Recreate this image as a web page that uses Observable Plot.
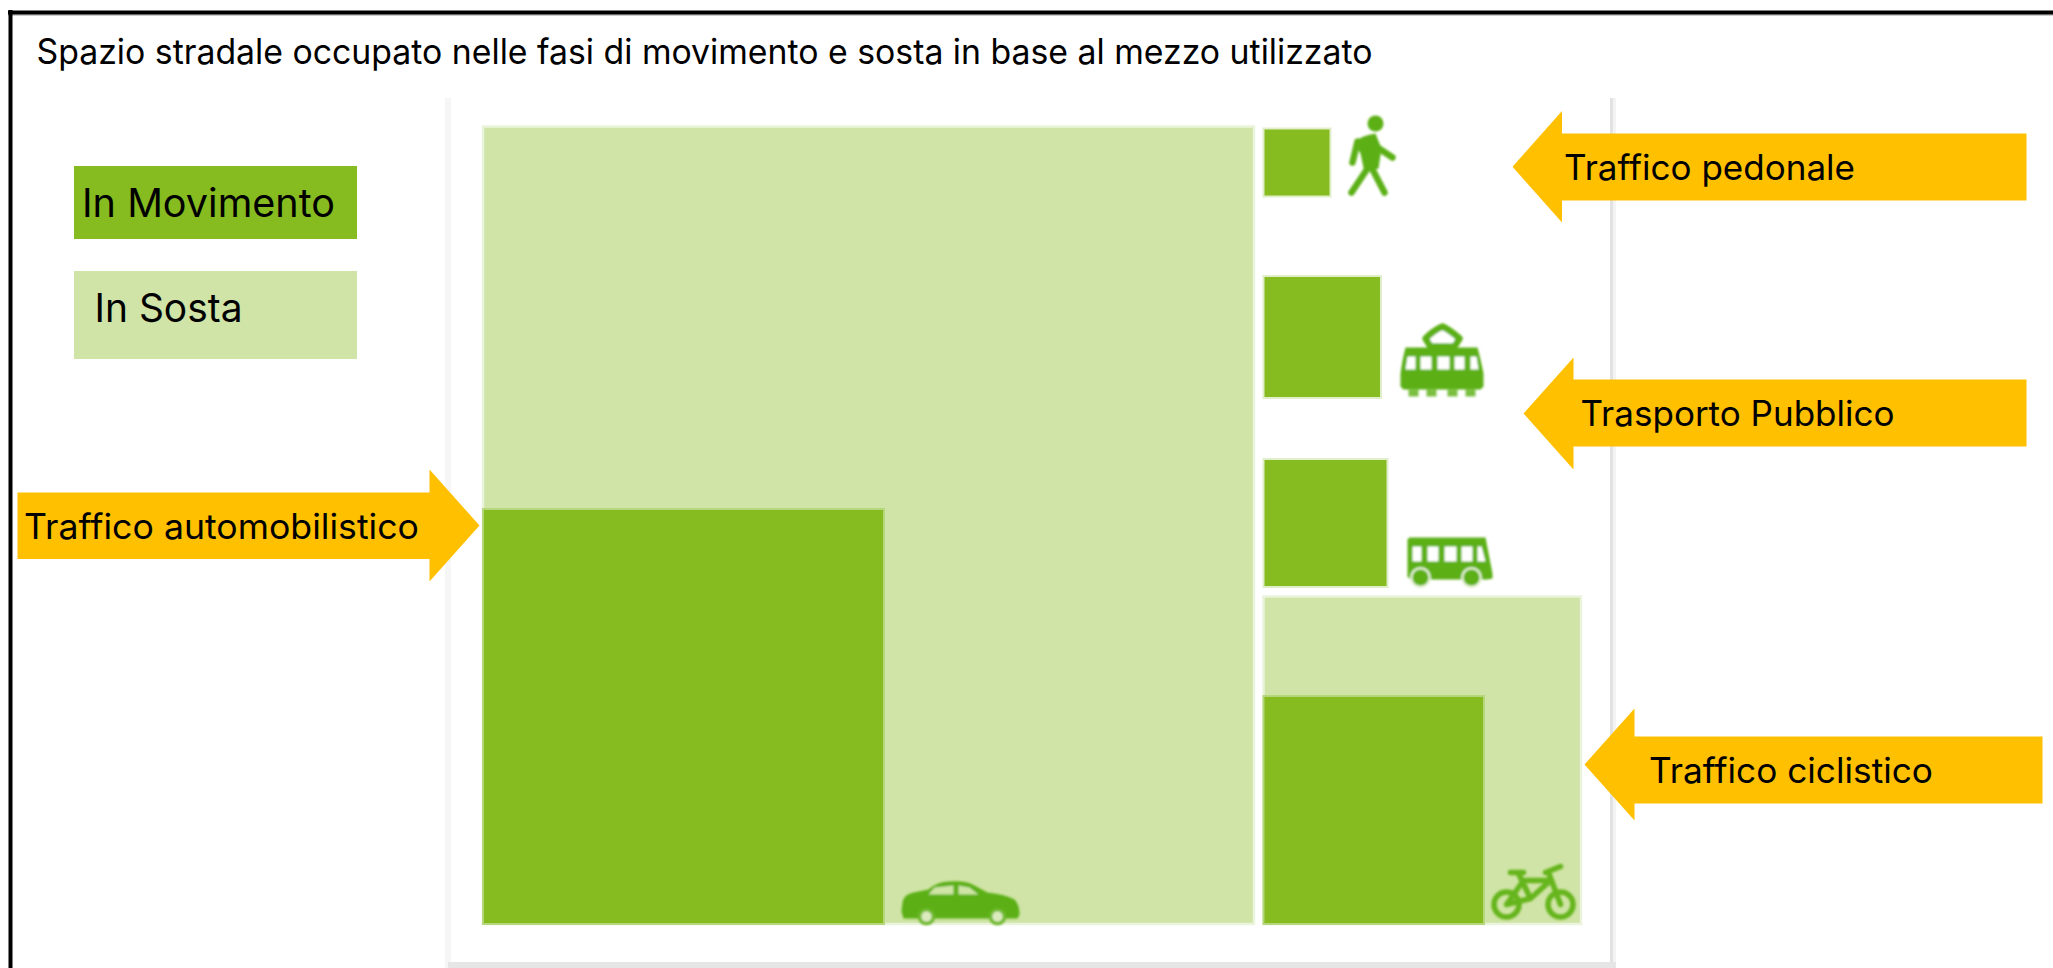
<!DOCTYPE html>
<html lang="it">
<head>
<meta charset="utf-8">
<title>Spazio stradale occupato</title>
<script src="https://cdn.jsdelivr.net/npm/d3@7"></script>
<script src="https://cdn.jsdelivr.net/npm/@observablehq/plot@0.6"></script>
<style>
html,body{margin:0;padding:0;background:#fff;overflow:hidden}
svg{display:block}
</style>
</head>
<body>
<div id="chart"></div>
<script>
// --- values (picture units) ---
const titleText = "Spazio stradale occupato nelle fasi di movimento e sosta in base al mezzo utilizzato";

// In Sosta blocks
const sostaNames = ["Auto", "Bici"];
const sostaX1 = [483, 1263.5];
const sostaX2 = [1254, 1581];
const sostaY1 = [126.5, 596.5];
const sostaY2 = [924, 924];

// In Movimento blocks
const movimentoNames = ["Auto", "Pedoni", "Tram", "Autobus", "Bici"];
const movimentoX1 = [483, 1263.5, 1263.5, 1263.5, 1263.5];
const movimentoX2 = [884, 1330.5, 1381, 1387.5, 1484];
const movimentoY1 = [509, 128.5, 276, 459, 696];
const movimentoY2 = [924, 196.5, 398, 587, 924];
const movimentoHalo = ["#B5D67A", "#E0EECA", "#E0EECA", "#E0EECA", "#B5D67A"];

// Legend
const legendLabels = ["In Movimento", "In Sosta"];
const legendY1 = [166, 271];
const legendY2 = [239, 359];
const legendTextX = [81.5, 94];
const legendTextY = [216.5, 321.5];

// Annotation arrows
const arrowLabels = ["Traffico automobilistico", "Traffico pedonale", "Trasporto Pubblico", "Traffico ciclistico"];
const arrowTip = [479, 1512, 1523, 1584];
const arrowHead = [429, 1561.5, 1573, 1634];
const arrowEnd = [17, 2026, 2026, 2042];
const arrowHeadTop = [469, 110.5, 357, 708];
const arrowHeadBottom = [581, 222, 469, 820];
const arrowShaftTop = [492, 133, 379, 736];
const arrowShaftBottom = [558.5, 200, 446, 803];
const arrowTextX = [23.5, 1563.5, 1580, 1648.5];
const arrowTextY = [538, 179, 425, 782];

// Text fitted widths
const textWidths = new Map([
  [titleText, 1336],
  ["In Movimento", 253],
  ["In Sosta", 148],
  ["Traffico automobilistico", 395],
  ["Traffico pedonale", 291],
  ["Trasporto Pubblico", 314],
  ["Traffico ciclistico", 284]
]);

// Icons
const iconNames = ["car", "bike", "tram", "bus", "walker"];
const iconX = [960, 1533, 1441.5, 1449.5, 1371];
const iconY = [903, 891.5, 360, 562, 155.5];
const iconW = [118, 84, 83, 85, 46];
const iconH = [44, 55, 74, 50, 81];
const iconArt = [
  // car
  `<path d="M1 21 Q2 13 12 11 L27 8 Q36 0 48 0 Q63 -1 71 3 L86 11 Q104 13 113 18 Q118 23 118 33 L116 37 L2 37 L0 30 Z" fill="#5BB014"/>
   <path d="M27 13 L33 6 L52 4 V13 Z M57 4 L68 6 L77 13 H57 Z" fill="#CFE4A6"/>
   <circle cx="25" cy="35" r="7" fill="#DCEBBE" stroke="#6DB82A" stroke-width="3.5"/>
   <circle cx="96" cy="35" r="7" fill="#DCEBBE" stroke="#6DB82A" stroke-width="3.5"/>`,
  // bike
  `<g fill="none" stroke="#66B51F" stroke-width="5.5" stroke-linecap="round" stroke-linejoin="round">
   <circle cx="15" cy="40" r="12.5"/><circle cx="69" cy="40" r="12.5"/>
   <path d="M19 8 H32 M27 9 L39 34 M32 16 H59 L39 34 L15 40 L32 16 M54 8 L69 2 M57 8 L69 40"/></g>`,
  // tram
  `<path d="M42 3 Q50 7 59 15 L54 23 H30 L25 15 Q33 7 42 3 Z" fill="#fff" stroke="#5BB014" stroke-width="6.5" stroke-linejoin="round"/>
   <path d="M5 24 H77 Q80 35 83 50 V63 L80 66 H3 L0 63 V50 Q2 35 5 24 Z" fill="#5BB014"/>
   <path d="M7 33 H15 V46 H5 Z M20 33 H31 V46 H20 Z M37 33 H49 V46 H37 Z M54 33 H64 V46 H54 Z M70 33 H76 L78 46 H70 Z" fill="#fff"/>
   <g fill="#5BB014" opacity=".8"><rect x="8" y="66" width="10" height="7"/><rect x="26" y="66" width="10" height="7"/><rect x="47" y="66" width="10" height="7"/><rect x="65" y="66" width="10" height="7"/></g>`,
  // bus
  `<path d="M2 0 H78 L85 36 V41 L80 42 H3 L0 39 V2 Z" fill="#5BB014"/>
   <path d="M5 9 H14 V24 H5 Z M20 9 H31 V24 H20 Z M37 9 H49 V24 H37 Z M54 9 H65 V24 H54 Z M70 9 H74 L78 24 H70 Z" fill="#fff"/>
   <circle cx="13" cy="40" r="10.5" fill="#E4F0D2"/><circle cx="64" cy="40" r="10.5" fill="#E4F0D2"/>
   <circle cx="13" cy="40" r="8" fill="#5BB014"/><circle cx="64" cy="40" r="8" fill="#5BB014"/>`,
  // walker
  `<circle cx="27" cy="8" r="8" fill="#5BB014"/>
   <path d="M6 28 Q11 20 27 18 L33 33 L30 53 L16 57 L12 38 Z" fill="#5BB014"/>
   <g fill="none" stroke="#5BB014" stroke-width="6.5" stroke-linecap="round" stroke-linejoin="round">
   <path d="M29 32 L44 42 M9 26 L4 47 M19 53 L3 77 M22 50 L36 77"/></g>`
];
const iconSrc = iconArt.map((art, i) =>
  "data:image/svg+xml;utf8," + encodeURIComponent(
    `<svg xmlns="http://www.w3.org/2000/svg" width="${iconW[i]}" height="${iconH[i]}" viewBox="-3 -3 ${iconW[i] + 6} ${iconH[i] + 6}"><defs><filter id="b" x="-10%" y="-10%" width="120%" height="120%"><feGaussianBlur stdDeviation="1"/></filter></defs><g filter="url(#b)">${art}</g></svg>`
  ));

// --- tables built from the arrays ---
const sosta = sostaNames.map((name, i) => ({name, x1: sostaX1[i], x2: sostaX2[i], y1: sostaY1[i], y2: sostaY2[i]}));
const movimento = movimentoNames.map((name, i) => ({name, x1: movimentoX1[i], x2: movimentoX2[i], y1: movimentoY1[i], y2: movimentoY2[i], halo: movimentoHalo[i]}));
const legend = legendLabels.map((label, i) => ({label, y1: legendY1[i], y2: legendY2[i], tx: legendTextX[i], ty: legendTextY[i]}));
const arrowPoints = arrowLabels.flatMap((label, i) => [
  [arrowTip[i], (arrowHeadTop[i] + arrowHeadBottom[i]) / 2],
  [arrowHead[i], arrowHeadTop[i]],
  [arrowHead[i], arrowShaftTop[i]],
  [arrowEnd[i], arrowShaftTop[i]],
  [arrowEnd[i], arrowShaftBottom[i]],
  [arrowHead[i], arrowShaftBottom[i]],
  [arrowHead[i], arrowHeadBottom[i]]
].map(([x, y]) => ({label, x, y})));
const arrowTexts = arrowLabels.map((label, i) => ({label, x: arrowTextX[i], y: arrowTextY[i]}));
const icons = iconNames.map((name, i) => ({name, x: iconX[i], y: iconY[i], w: iconW[i] + 6, h: iconH[i] + 6, src: iconSrc[i]}));

const FONT = "Inter";
const GREEN = "#86BC1F";
const PALE = "#CFE4A6";

const chart = Plot.plot({
  width: 2053,
  height: 968,
  margin: 0,
  x: {domain: [0, 2053], range: [0, 2053], axis: null},
  y: {domain: [0, 968], range: [0, 968], axis: null},
  marks: [
    // page frame: top and left only
    Plot.ruleY([14.5], {x1: 8, x2: 2053, stroke: "#9a9a9a", strokeWidth: 1}),
    Plot.ruleY([12], {x1: 8, x2: 2053, stroke: "#000", strokeWidth: 4}),
    Plot.ruleX([10], {y1: 10, y2: 968, stroke: "#000", strokeWidth: 4}),
    // source panel shadow
    Plot.rect([0], {x1: 445, x2: 451, y1: 98, y2: 968, fill: "#F6F6F6"}),
    Plot.rect([0], {x1: 1610, x2: 1613, y1: 98, y2: 968, fill: "#E2E2E2"}),
    Plot.rect([0], {x1: 1613, x2: 1616, y1: 98, y2: 968, fill: "#F3F3F3"}),
    Plot.rect([0], {x1: 448, x2: 1616, y1: 962, y2: 968, fill: "#E6E6E6"}),
    // blocks
    Plot.rect(sosta, {x1: "x1", x2: "x2", y1: "y1", y2: "y2", fill: PALE, stroke: "#EAF3DC", strokeWidth: 2.5}),
    Plot.rect(movimento, {x1: "x1", x2: "x2", y1: "y1", y2: "y2", fill: GREEN, stroke: "halo", strokeWidth: 2}),
    // pictograms
    Plot.image(icons, {x: "x", y: "y", width: "w", height: "h", src: "src"}),
    // legend
    Plot.rect(legend, {x1: 74, x2: 357, y1: "y1", y2: "y2", fill: d => d.label === "In Sosta" ? PALE : GREEN}),
    Plot.text(legend, {x: "tx", y: "ty", text: "label", textAnchor: "start", lineAnchor: "bottom", fontSize: 39, fontFamily: FONT, fill: "#000"}),
    // annotation arrows
    Plot.line(arrowPoints, {x: "x", y: "y", z: "label", fill: "#FFC000", stroke: null, curve: "linear-closed"}),
    Plot.text(arrowTexts, {x: "x", y: "y", text: "label", textAnchor: "start", lineAnchor: "bottom", fontSize: 35, fontFamily: FONT, fill: "#000"}),
    // title
    Plot.text([titleText], {x: 36, y: 63, text: d => d, textAnchor: "start", lineAnchor: "bottom", fontSize: 35, fontFamily: FONT, fill: "#000"})
  ]
});

// fit each label to the width it has in the picture
d3.select(chart).selectAll("text").each(function () {
  const w = textWidths.get(this.textContent);
  if (w) { this.setAttribute("textLength", w); this.setAttribute("lengthAdjust", "spacingAndGlyphs"); }
});
document.getElementById("chart").append(chart);
</script>
</body>
</html>
